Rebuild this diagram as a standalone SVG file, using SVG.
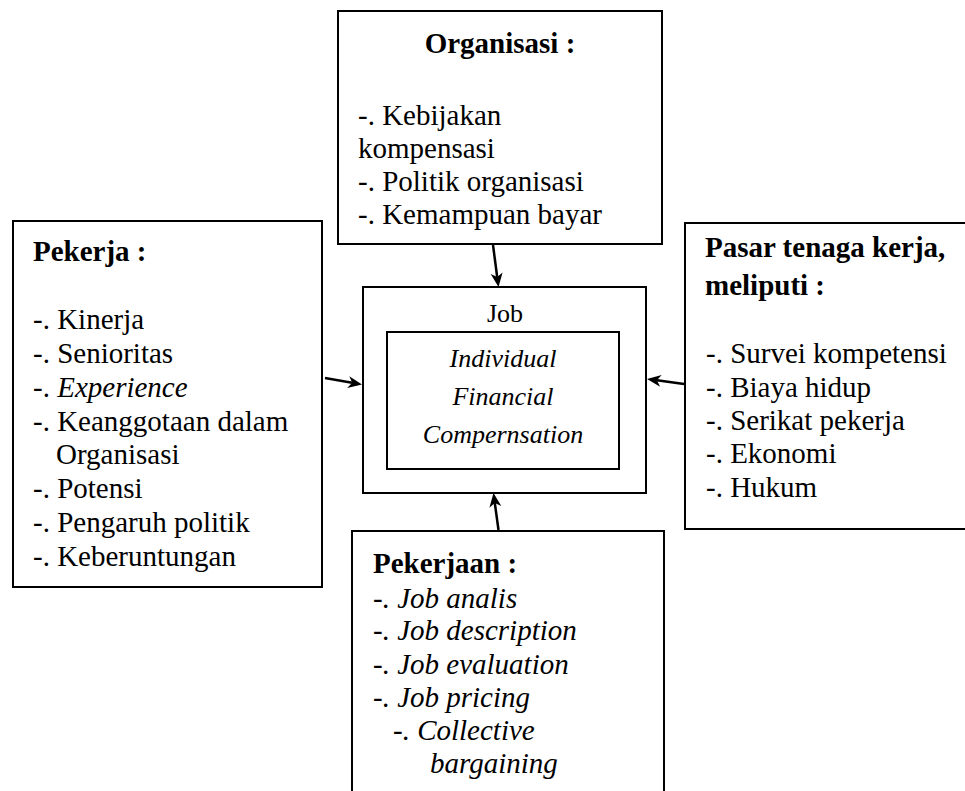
<svg xmlns="http://www.w3.org/2000/svg" width="965" height="791" viewBox="0 0 965 791">
<rect width="965" height="791" fill="#fff"/>
<g id="organisasi">
<rect x="338" y="11" width="324" height="233" fill="#fff" stroke="#000" stroke-width="2"/>
<text x="500" y="53" font-family="Liberation Serif" font-size="29" text-anchor="middle" font-weight="bold">Organisasi :</text>
<text x="358" y="125" font-family="Liberation Serif" font-size="29">-. Kebijakan</text>
<text x="358" y="158" font-family="Liberation Serif" font-size="29">kompensasi</text>
<text x="358" y="191" font-family="Liberation Serif" font-size="29">-. Politik organisasi</text>
<text x="358" y="224" font-family="Liberation Serif" font-size="29">-. Kemampuan bayar</text>
</g>
<g id="pekerja">
<rect x="13" y="221" width="309" height="366" fill="#fff" stroke="#000" stroke-width="2"/>
<text x="33" y="261" font-family="Liberation Serif" font-size="29" font-weight="bold">Pekerja :</text>
<text x="33" y="329" font-family="Liberation Serif" font-size="29">-. Kinerja</text>
<text x="33" y="363" font-family="Liberation Serif" font-size="29">-. Senioritas</text>
<text x="33" y="397" font-family="Liberation Serif" font-size="29">-. <tspan font-style="italic">Experience</tspan></text>
<text x="33" y="431" font-family="Liberation Serif" font-size="29">-. Keanggotaan dalam</text>
<text x="56" y="464" font-family="Liberation Serif" font-size="29">Organisasi</text>
<text x="33" y="498" font-family="Liberation Serif" font-size="29">-. Potensi</text>
<text x="33" y="532" font-family="Liberation Serif" font-size="29">-. Pengaruh politik</text>
<text x="33" y="566" font-family="Liberation Serif" font-size="29">-. Keberuntungan</text>
</g>
<g id="pasar">
<rect x="685" y="223" width="290" height="306" fill="#fff" stroke="#000" stroke-width="2"/>
<text x="705" y="257" font-family="Liberation Serif" font-size="29" font-weight="bold">Pasar tenaga kerja,</text>
<text x="705" y="295" font-family="Liberation Serif" font-size="29" font-weight="bold">meliputi :</text>
<text x="706" y="363" font-family="Liberation Serif" font-size="29">-. Survei kompetensi</text>
<text x="706" y="397" font-family="Liberation Serif" font-size="29">-. Biaya hidup</text>
<text x="706" y="430" font-family="Liberation Serif" font-size="29">-. Serikat pekerja</text>
<text x="706" y="463" font-family="Liberation Serif" font-size="29">-. Ekonomi</text>
<text x="706" y="497" font-family="Liberation Serif" font-size="29">-. Hukum</text>
</g>
<g id="job">
<rect x="363" y="287" width="283" height="206" fill="#fff" stroke="#000" stroke-width="2"/>
<text x="505" y="322" font-family="Liberation Serif" font-size="26" text-anchor="middle">Job</text>
</g>
<g id="compensation">
<rect x="387" y="332" width="232" height="137" fill="#fff" stroke="#000" stroke-width="2"/>
<text x="503" y="367" font-family="Liberation Serif" font-size="26" text-anchor="middle" font-style="italic">Individual</text>
<text x="503" y="405" font-family="Liberation Serif" font-size="26" text-anchor="middle" font-style="italic">Financial</text>
<text x="503" y="443" font-family="Liberation Serif" font-size="26" text-anchor="middle" font-style="italic">Compernsation</text>
</g>
<g id="pekerjaan">
<path d="M352,800 L352,531 L664,531 L664,800" fill="#fff" stroke="#000" stroke-width="2"/>
<text x="373" y="573" font-family="Liberation Serif" font-size="29" font-weight="bold">Pekerjaan :</text>
<text x="373" y="608" font-family="Liberation Serif" font-size="29" font-style="italic">-. Job analis</text>
<text x="373" y="640" font-family="Liberation Serif" font-size="29" font-style="italic">-. Job description</text>
<text x="373" y="674" font-family="Liberation Serif" font-size="29" font-style="italic">-. Job evaluation</text>
<text x="373" y="707" font-family="Liberation Serif" font-size="29" font-style="italic">-. Job pricing</text>
<text x="393" y="740" font-family="Liberation Serif" font-size="29" font-style="italic">-. Collective</text>
<text x="430" y="773" font-family="Liberation Serif" font-size="29" font-style="italic">bargaining</text>
</g>
<g id="connectors" stroke="#000" stroke-width="2.5">
<line x1="493" y1="245" x2="497.2" y2="277"/>
<polygon points="498.5,287 490.7,273.9 497.2,277.1 502.6,272.4" fill="#000" stroke="none"/>
<line x1="325" y1="378" x2="352" y2="382.7"/>
<polygon points="362,384.5 347.2,388 352.2,382.8 349.3,376.2" fill="#000" stroke="none"/>
<line x1="684" y1="384" x2="657" y2="380.3"/>
<polygon points="647,379 661.7,374.9 656.9,380.3 660.1,386.8" fill="#000" stroke="none"/>
<line x1="498.5" y1="530" x2="494.8" y2="503"/>
<polygon points="493.5,493 501.3,506.1 494.8,502.9 489.4,507.7" fill="#000" stroke="none"/>
</g>
</svg>
